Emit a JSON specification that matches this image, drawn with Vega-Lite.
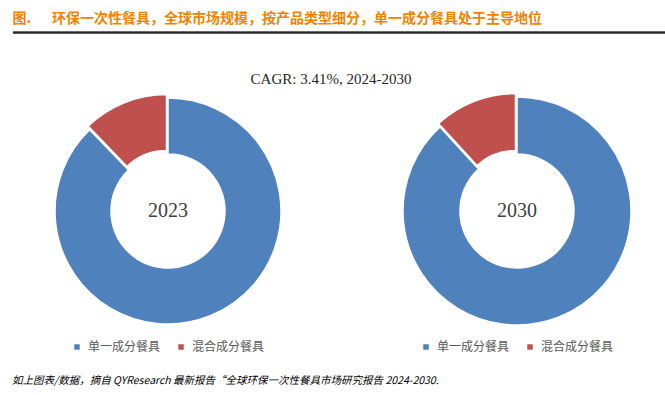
{
  "$schema": "https://vega.github.io/schema/vega-lite/v6.json",
  "padding": {"left": 12, "top": 11, "right": 0, "bottom": 0},
  "background": "white",
  "config": {
    "view": {"stroke": null},
    "legend": {
      "orient": "bottom",
      "direction": "horizontal",
      "title": null,
      "labelFont": "Noto Sans CJK SC",
      "labelFontSize": 12,
      "labelColor": "#595959",
      "symbolType": "square",
      "symbolSize": 30,
      "symbolStrokeWidth": 0,
      "labelOffset": 5,
      "columnPadding": 14,
      "offset": 10,
      "layout": {"bottom": {"anchor": "middle"}}
    }
  },
  "title": {
    "text": "如上图表/数据，摘自 QYResearch 最新报告“全球环保一次性餐具市场研究报告 2024-2030.",
    "orient": "bottom",
    "anchor": "start",
    "font": "Noto Sans CJK SC",
    "fontSize": 10.5,
    "fontStyle": "italic",
    "fontWeight": "normal",
    "color": "#000000",
    "offset": 23
  },
  "datasets": {
    "shares": [
      {"year": "2023", "type": "单一成分餐具", "share": 87.8},
      {"year": "2023", "type": "混合成分餐具", "share": 12.2},
      {"year": "2030", "type": "单一成分餐具", "share": 88.2},
      {"year": "2030", "type": "混合成分餐具", "share": 11.8}
    ]
  },
  "spacing": 37,
  "vconcat": [
    {
      "title": {
        "text": "图.\u2003\u2002环保一次性餐具，全球市场规模，按产品类型细分，单一成分餐具处于主导地位",
        "anchor": "start",
        "font": "Noto Sans CJK SC",
        "fontSize": 14,
        "fontWeight": "bold",
        "color": "#F08200",
        "offset": 6
      },
      "width": 653,
      "height": 1,
      "view": {"stroke": "#000000", "strokeWidth": 0.8, "fill": null},
      "data": {"values": [{"v": 0}]},
      "mark": {"type": "rule", "color": "#000000", "strokeWidth": 1},
      "encoding": {"y": {"value": 0}}
    },
    {
      "title": {
        "text": "CAGR: 3.41%, 2024-2030",
        "anchor": "middle",
        "font": "Liberation Serif",
        "fontSize": 15,
        "fontWeight": "normal",
        "color": "#262626",
        "offset": 4
      },
      "spacing": 62,
      "resolve": {"legend": {"color": "independent"}},
      "hconcat": [
        {
          "width": 310,
          "height": 240,
          "data": {"name": "shares"},
          "transform": [
            {"filter": "datum.year == '2023'"},
            {"stack": "share", "groupby": ["year"], "sort": [{"field": "type", "order": "ascending"}], "as": ["s0", "s1"]}
          ],
          "layer": [
            {
              "transform": [{"filter": "datum.type == '单一成分餐具'"}],
              "mark": {"type": "arc", "outerRadius": 113, "innerRadius": 57, "stroke": "white", "strokeWidth": 1.5},
              "encoding": {
                "theta": {"field": "s0", "type": "quantitative", "scale": {"domain": [0, 100]}},
                "theta2": {"field": "s1"},
                "color": {"field": "type", "type": "nominal", "scale": {"domain": ["单一成分餐具", "混合成分餐具"], "range": ["#4F81BD", "#C0504D"]}}
              }
            },
            {
              "transform": [{"filter": "datum.type == '混合成分餐具'"}],
              "mark": {"type": "arc", "outerRadius": 113, "innerRadius": 57, "stroke": "white", "strokeWidth": 1.5, "xOffset": -1.5, "yOffset": -3.5},
              "encoding": {
                "theta": {"field": "s0", "type": "quantitative", "scale": {"domain": [0, 100]}},
                "theta2": {"field": "s1"},
                "color": {"field": "type", "type": "nominal", "scale": {"domain": ["单一成分餐具", "混合成分餐具"], "range": ["#4F81BD", "#C0504D"]}}
              }
            },
            {
              "transform": [{"filter": "datum.type == '单一成分餐具'"}],
              "mark": {"type": "text", "font": "Liberation Serif", "fontSize": 20, "color": "#404040", "baseline": "middle", "align": "center"},
              "encoding": {"text": {"field": "year"}}
            }
          ]
        },
        {
          "width": 264,
          "height": 240,
          "data": {"name": "shares"},
          "transform": [
            {"filter": "datum.year == '2030'"},
            {"stack": "share", "groupby": ["year"], "sort": [{"field": "type", "order": "ascending"}], "as": ["s0", "s1"]}
          ],
          "layer": [
            {
              "transform": [{"filter": "datum.type == '单一成分餐具'"}],
              "mark": {"type": "arc", "outerRadius": 114, "innerRadius": 57, "stroke": "white", "strokeWidth": 1.5},
              "encoding": {
                "theta": {"field": "s0", "type": "quantitative", "scale": {"domain": [0, 100]}},
                "theta2": {"field": "s1"},
                "color": {"field": "type", "type": "nominal", "scale": {"domain": ["单一成分餐具", "混合成分餐具"], "range": ["#4F81BD", "#C0504D"]}}
              }
            },
            {
              "transform": [{"filter": "datum.type == '混合成分餐具'"}],
              "mark": {"type": "arc", "outerRadius": 114, "innerRadius": 57, "stroke": "white", "strokeWidth": 1.5, "xOffset": -1.5, "yOffset": -3.5},
              "encoding": {
                "theta": {"field": "s0", "type": "quantitative", "scale": {"domain": [0, 100]}},
                "theta2": {"field": "s1"},
                "color": {"field": "type", "type": "nominal", "scale": {"domain": ["单一成分餐具", "混合成分餐具"], "range": ["#4F81BD", "#C0504D"]}}
              }
            },
            {
              "transform": [{"filter": "datum.type == '单一成分餐具'"}],
              "mark": {"type": "text", "font": "Liberation Serif", "fontSize": 20, "color": "#404040", "baseline": "middle", "align": "center"},
              "encoding": {"text": {"field": "year"}}
            }
          ]
        }
      ]
    }
  ]
}
